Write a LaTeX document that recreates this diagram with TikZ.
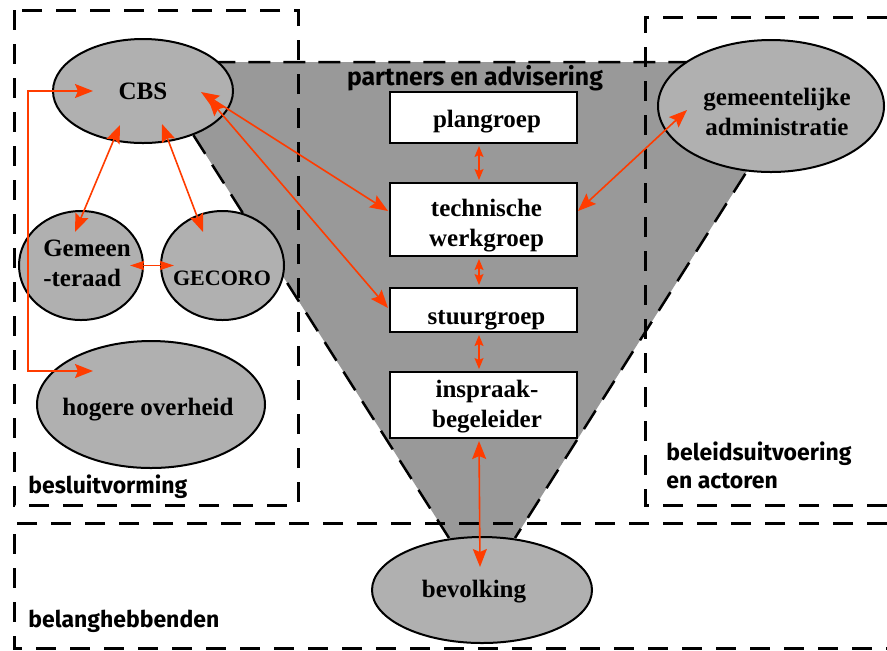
\documentclass[tikz,border=0pt]{standalone}
\usepackage{fontspec}
\setmainfont{Liberation Serif}
\newfontfamily\handfont{Fira Sans}
\usetikzlibrary{shapes.geometric, arrows.meta, calc}

\definecolor{funnelgray}{HTML}{999999}
\definecolor{blobgray}{HTML}{B0B0B0}
\definecolor{linkred}{HTML}{FF3C00}

\tikzset{
  region/.style={line width=1.5pt, dash pattern=on 10pt off 7pt},
  blob/.style={ellipse, draw=black, line width=1pt, fill=blobgray, inner sep=0pt},
  group/.style={rectangle, draw=black, line width=1pt, fill=white, minimum width=93.5pt, inner sep=0pt},
  txt/.style={font=\bfseries\fontsize{12.5}{15}\selectfont, align=center, inner sep=0pt},
  areatxt/.style={font=\handfont\bfseries\fontsize{11.5}{14}\selectfont, inner sep=0pt, align=left},
  link/.style={draw=linkred, line width=0.8pt, {Stealth[length=9pt,width=7pt,inset=1.5pt]}-{Stealth[length=9pt,width=7pt,inset=1.5pt]}},
  pairlink/.style={draw=linkred, line width=0.8pt, {Stealth[length=7pt,width=4.5pt,inset=0.5pt]}-{Stealth[length=7pt,width=4.5pt,inset=0.5pt]}},
  shortlink/.style={draw=linkred, line width=0.7pt, {Stealth[length=5.5pt,width=4.5pt,inset=1pt]}-{Stealth[length=5.5pt,width=4.5pt,inset=1pt]}},
}

\begin{document}
\begin{tikzpicture}[x=0.5pt, y=-0.5pt]
\useasboundingbox (0,0) rectangle (887,650);

%% funnel
\fill[funnelgray] (147,62) -- (816,62) -- (515,538) -- (449,538) -- cycle;
\draw[line width=1.25pt, dash pattern=on 11pt off 6.5pt] (449,538) -- (147,62) -- (816,62) -- (515,538);

%% dashed regions
\draw[region] (14,10) rectangle (298,505);
\draw[region] (887,17) -- (645,17) -- (645,505) -- (887,505);
\draw[region] (887,523) -- (14,523) -- (14,648) -- (887,648);

% ellipses
\node[blob, minimum width=90pt, minimum height=52pt] (cbs) at (143,91) {};
\node[blob, minimum width=62pt, minimum height=54.5pt] (raad) at (81,265.5) {};
\node[blob, minimum width=61.5pt, minimum height=54.5pt] (gecoro) at (222.5,265.5) {};
\node[blob, minimum width=114pt, minimum height=63.5pt] (hoger) at (151,404.5) {};
\node[blob, minimum width=113pt, minimum height=66pt] (gemeente) at (771,106) {};
\node[blob, minimum width=110pt, minimum height=53pt] (bevolking) at (482,590) {};

\node[txt] (cbs-txt) at (143,91) {CBS};
\node[txt, align=left] (raad-txt) at (87,263) {Gemeen\\-teraad};
\node[txt, font=\bfseries\fontsize{11}{13}\selectfont] (gecoro-txt) at (222,278) {GECORO};
\node[txt] (hoger-txt) at (148,410) {hogere overheid};
\node[txt] (gemeente-txt) at (777,112) {gemeentelijke\\administratie};
\node[txt] (bevolking-txt) at (474,592) {bevolking};

% boxes
\node[group, minimum height=25.5pt] (plan) at (483.5,117.5) {};
\node[group, minimum height=36.5pt] (tech) at (483.5,219.5) {};
\node[group, minimum height=22pt] (stuur) at (483.5,310) {};
\node[group, minimum height=33pt] (inspraak) at (483.5,405) {};

\node[txt, anchor=base] (plan-txt) at (487,127) {plangroep};
\node[txt] (tech-txt) at (486.5,225.5) {technische\\werkgroep};
\node[txt, anchor=base] (stuur-txt) at (486.5,324) {stuurgroep};
\node[txt] (inspraak-txt) at (487,407) {inspraak-\\begeleider};

%% area labels
\node[areatxt, font=\handfont\bfseries\fontsize{12.4}{14}\selectfont] (partners) at (475,78) {partners en advisering};
\node[areatxt, anchor=west] (besluit) at (28,487) {besluitvorming};
\node[areatxt, anchor=north west] (beleid) at (666,441) {beleidsuitvoering\\en actoren};
\node[areatxt, anchor=west] (belang) at (28,621) {belanghebbenden};

% arrows
\draw[link] ($(cbs)+(-23,34)$) -- ($(raad)+(-6,-33.5)$);
\draw[link] ($(cbs)+(19,33)$) -- ($(gecoro)+(-19.5,-33.5)$);
\draw[pairlink] ($(raad)+(49,0)$) -- ($(gecoro)+(-48.5,0)$);
\draw[link] ($(cbs)+(58,1)$) -- ($(tech)+(-95.5,-8.5)$);
\draw[link] ($(cbs)+(65,7)$) -- ($(stuur)+(-95.5,-2)$);
\draw[link] ($(cbs)+(-50,0)$) -- ++(-65,0) |- ($(hoger)+(-58,-33.5)$);
\draw[link] ($(gemeente)+(-84,4)$) -- ($(tech)+(94.5,-8.5)$);

\draw[shortlink] ($(plan.south)+(-4.5,2)$) -- ($(tech.north)+(-4.5,-2)$);
\draw[shortlink] ($(tech.south)+(-4.5,2)$) -- ($(stuur.north)+(-4.5,-2)$);
\draw[shortlink] ($(stuur.south)+(-4.5,2)$) -- ($(inspraak.north)+(-4.5,-2)$);
\draw[link] ($(inspraak.south)+(-4.5,2)$) -- ($(bevolking)+(-2,-23)$);

\end{tikzpicture}
\end{document}
